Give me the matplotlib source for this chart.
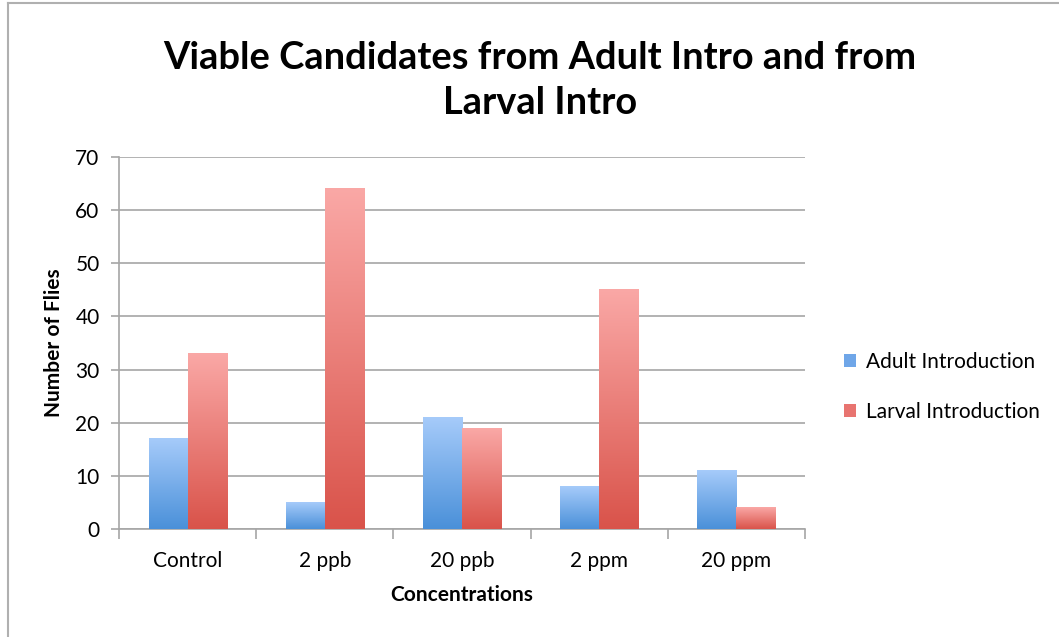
import numpy as np
import matplotlib.pyplot as plt
from matplotlib.lines import Line2D
from matplotlib.colors import LinearSegmentedColormap
from matplotlib.patches import Patch

plt.rcParams['font.family'] = ['Lato', 'DejaVu Sans']

# data
categories = ['Control', '2 ppb', '20 ppb', '2 ppm', '20 ppm']
adult = [17, 5, 21, 8, 11]
larval = [33, 64, 19, 45, 4]
series_names = ['Adult Introduction', 'Larval Introduction']

# gradient colours (bottom -> top)
blue_cmap = LinearSegmentedColormap.from_list('b', ['#4a90d9', '#a6cbfa'])
red_cmap = LinearSegmentedColormap.from_list('r', ['#d9534a', '#faa8a6'])

fig = plt.figure(figsize=(10.59, 6.37), dpi=100)
ax = fig.add_axes([0.1124, 0.1695, 0.6476, 0.584])

x = np.arange(len(categories))
w = 0.285
grad = np.linspace(0, 1, 256).reshape(-1, 1)


def gradient_bars(xs, vals, cmap):
    bars = ax.bar(xs, vals, w, color='none', edgecolor='none', zorder=3)
    for b in bars:
        bx, by = b.get_x(), b.get_y()
        bw, bh = b.get_width(), b.get_height()
        ax.imshow(grad, cmap=cmap, origin='lower', aspect='auto',
                  extent=[bx, bx + bw, by, by + bh], zorder=3,
                  interpolation='bicubic')
    return bars


gradient_bars(x - w / 2, adult, blue_cmap)
gradient_bars(x + w / 2, larval, red_cmap)

ax.set_xlim(-0.5, len(categories) - 0.5)
ax.set_ylim(0, 70)
ax.set_yticks(np.arange(0, 71, 10))
ax.yaxis.grid(True, color='#a6a6a6', linewidth=1.2, zorder=0)
ax.set_axisbelow(True)

ax.set_xticks(x)
ax.set_xticklabels(categories, fontsize=15)
ax.tick_params(axis='x', length=0, pad=16)
ax.set_xticks(np.arange(-0.5, len(categories), 1), minor=True)
ax.tick_params(axis='x', which='minor', length=7, color='#a6a6a6', width=1.2)
ax.tick_params(axis='y', length=6, color='#a6a6a6', width=1.2, labelsize=15, pad=8)

for s in ['top', 'right']:
    ax.spines[s].set_visible(False)
for s in ['left', 'bottom']:
    ax.spines[s].set_color('#a6a6a6')
    ax.spines[s].set_linewidth(1.2)

ax.set_xlabel('Concentrations', fontsize=15, fontweight='bold', labelpad=10)
ax.set_ylabel('Number of Flies', fontsize=15, fontweight='bold', labelpad=8)

fig.text(0.51, 0.874, 'Viable Candidates from Adult Intro and from\nLarval Intro',
         ha='center', va='center', fontsize=27.4, fontweight='bold', linespacing=1.38)

handles = [Patch(facecolor='#6fa6e8', edgecolor='none'),
           Patch(facecolor='#e87470', edgecolor='none')]
fig.legend(handles, series_names, loc='center left', bbox_to_anchor=(0.779, 0.393),
           frameon=False, fontsize=15, handlelength=0.6, handleheight=0.6,
           handletextpad=0.45, labelspacing=1.45)

# outer frame (left and top edges visible)
fig.add_artist(Line2D([0.0075, 0.0075], [0, 0.995], transform=fig.transFigure,
                      color='#b0b0b0', linewidth=1.5))
fig.add_artist(Line2D([0.0075, 1], [0.995, 0.995], transform=fig.transFigure,
                      color='#b0b0b0', linewidth=1.5))

fig.savefig('out.png', dpi=100)
